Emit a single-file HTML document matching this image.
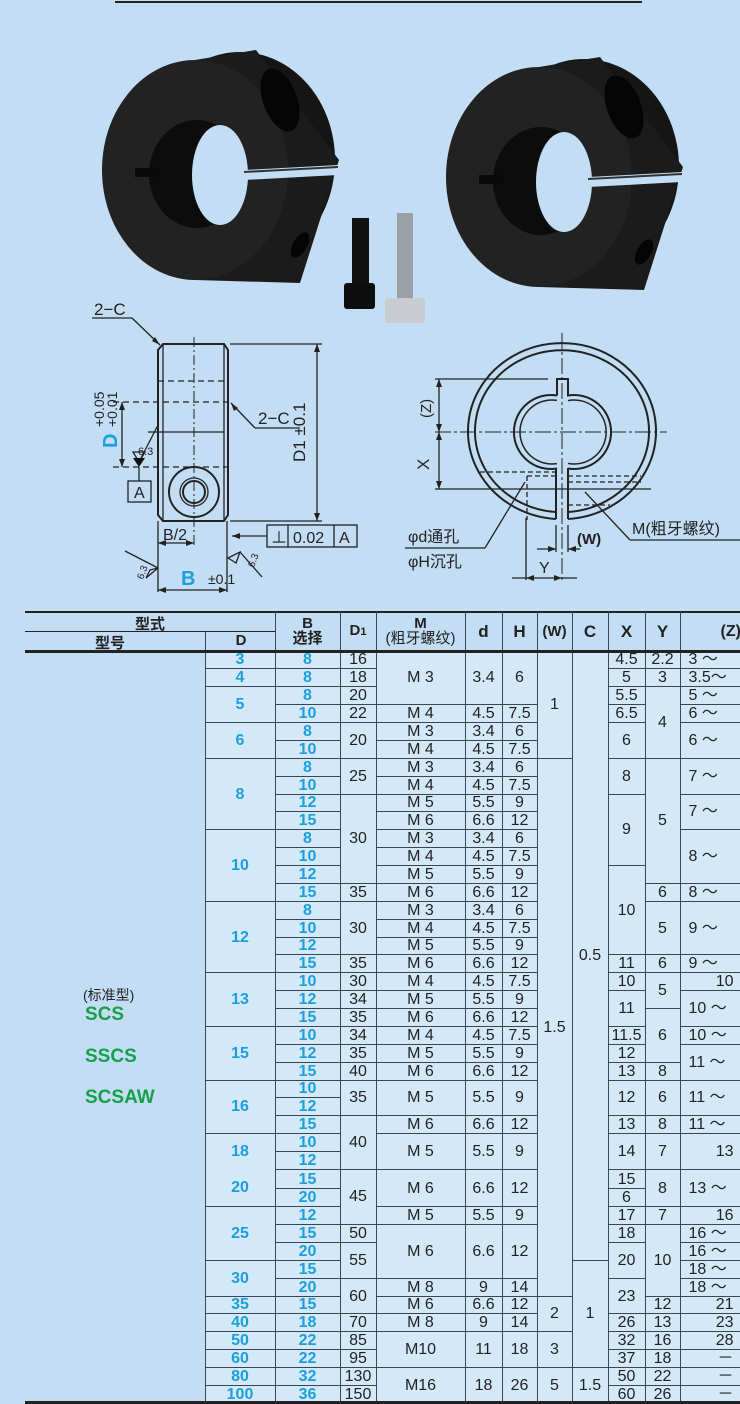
<!DOCTYPE html>
<html><head><meta charset="utf-8"><style>
html,body{margin:0;padding:0}
body{width:740px;height:1404px;overflow:hidden;background:#c3ddf5;position:relative;font-family:"Liberation Sans Narrow","Liberation Sans","Noto Sans CJK SC",sans-serif}
svg{position:absolute;left:0;top:0}
svg text{font-family:"Liberation Sans","Noto Sans CJK SC",sans-serif}
table{position:absolute;left:25px;top:612px;border-collapse:collapse;table-layout:fixed;width:755px}
td{border:1px solid #3a4652;background:#d3e9f8;text-align:center;padding:0;font-size:16px;line-height:15px;color:#222;overflow:hidden;white-space:nowrap}
tr.b td{height:16.88px}
td.bl{color:#1b9fdc;font-weight:bold;font-family:"Liberation Sans",sans-serif;font-size:16px}
td.z{text-align:left;padding-left:8px}
td.zr{text-align:right;padding-right:46px}
td.l{border:none;background:#c3ddf5}
th{font-family:"Liberation Sans","Noto Sans CJK SC",sans-serif;font-size:15px;font-weight:bold;color:#222;border-left:1px solid #3a4652;border-right:1px solid #3a4652;padding:0;line-height:15px;background:transparent}
.hdr{position:absolute;left:25px;top:611px;width:715px;height:0;border-top:2px solid #222}
.hb{position:absolute;left:25px;top:650px;width:715px;border-top:3px solid #222;z-index:2}
.bb{position:absolute;left:25px;top:1401px;width:715px;border-top:3px solid #222;z-index:2}
.lab{position:absolute;left:85px;font-family:"Liberation Sans",sans-serif;font-weight:bold;color:#16a04a;font-size:19px}
</style></head><body>
<svg width="740" height="612" viewBox="0 0 740 612">
<line x1="115" y1="2" x2="642" y2="2" stroke="#222" stroke-width="2"/>
<defs>
<g id="col">
<ellipse cx="240" cy="160" rx="95" ry="108" fill="#151515"/>
<path d="M195 60 L256 50 L339 160 L300 283 L195 280 Z" fill="#1b1b1b"/>
<ellipse cx="195" cy="170" rx="93" ry="110" fill="#222"/>
<ellipse cx="197" cy="174" rx="48" ry="54" fill="#0c0c0c"/>
<ellipse cx="220" cy="175" rx="28" ry="50" fill="#c3ddf5"/>
<rect x="135" y="168" width="25" height="9" fill="#0a0a0a"/>
<polygon points="244,170 338,165 338,175 244,180" fill="#c3ddf5"/>
<polygon points="244,171 338,166 338,168 244,173" fill="#333"/>
<ellipse cx="280" cy="100" rx="17" ry="33" fill="#050505" transform="rotate(-20 280 100)"/>
<ellipse cx="300" cy="245" rx="7" ry="14" fill="#050505" transform="rotate(30 300 245)"/>
</g>
</defs>
<use href="#col"/>
<use href="#col" transform="translate(344,7)"/>
<rect x="352" y="218" width="17" height="70" fill="#111"/>
<rect x="344" y="283" width="31" height="26" rx="3" fill="#0d0d0d"/>
<rect x="397" y="213" width="16" height="88" fill="#9aa0a6"/>
<rect x="385" y="298" width="40" height="25" rx="3" fill="#c9ccd0"/>
<g stroke="#222" fill="none" stroke-width="1.3">
<path d="M163 344 L224 344 L228 350 L228 515 L224 521 L163 521 L158 515 L158 350 Z" stroke-width="2"/>
<line x1="163" y1="344" x2="163" y2="521"/><line x1="224" y1="344" x2="224" y2="521"/>
<line x1="158" y1="381" x2="228" y2="381" stroke-dasharray="6,4"/>
<line x1="113" y1="402" x2="228" y2="402" stroke-dasharray="6,4"/>
<line x1="148" y1="432" x2="224" y2="432"/>
<line x1="113" y1="467" x2="228" y2="467" stroke-dasharray="6,4"/>
<line x1="194" y1="337" x2="194" y2="548" stroke-dasharray="10,3,2,3" stroke-width="1"/>
<circle cx="194" cy="492" r="25" stroke-width="2"/><circle cx="194" cy="492" r="14"/><circle cx="194" cy="492" r="11" stroke-width="2"/>
<line x1="122" y1="402" x2="122" y2="467"/>
<line x1="92" y1="318" x2="132" y2="318"/><line x1="132" y1="318" x2="160" y2="345"/>
<line x1="255" y1="428" x2="298" y2="428"/><line x1="255" y1="428" x2="231" y2="403"/>
<line x1="230" y1="344" x2="322" y2="344"/><line x1="230" y1="521" x2="322" y2="521"/>
<line x1="317" y1="344" x2="317" y2="521"/>
<line x1="158" y1="521" x2="158" y2="592"/><line x1="227" y1="521" x2="227" y2="592"/>
<line x1="158" y1="543" x2="194" y2="543"/>
<line x1="158" y1="590" x2="227" y2="590"/>
<rect x="128" y="481" width="23" height="21"/>
<line x1="139" y1="467" x2="139" y2="481"/>
<path d="M133 452 L145 452 L139 462 Z"/><line x1="139" y1="462" x2="158" y2="425"/>
<rect x="267" y="525" width="90" height="22"/><line x1="288" y1="525" x2="288" y2="547"/><line x1="334" y1="525" x2="334" y2="547"/>
<line x1="232" y1="536" x2="267" y2="536"/>
<path d="M150 570 L158 568 L146 578 Z"/><line x1="125" y1="551" x2="158" y2="568"/>
<path d="M236 563 L228 558 L240 552 Z"/><line x1="240" y1="552" x2="262" y2="577"/>
<path d="M556 519 A94 88 0 1 1 568 519" stroke-width="2"/>
<path d="M556 512 A87 81 0 1 1 568 512" stroke-width="2"/>
<line x1="556" y1="468" x2="556" y2="519" stroke-width="2"/><line x1="568" y1="468" x2="568" y2="519" stroke-width="2"/>
<path d="M557 395.5 L557 379 L568 379 L568 395.5 A37 37 0 1 1 568 468.5 M557 468.5 A37 37 0 1 1 557 395.5" stroke-width="2"/>
<path d="M568 400.6 A32 32 0 1 1 568 463.4 M557 463.6 A32 32 0 1 1 557 400.4" stroke-width="1.5"/>
<line x1="435" y1="432" x2="667" y2="432" stroke-dasharray="16,3,3,3" stroke-width="1"/>
<line x1="562" y1="333" x2="562" y2="582" stroke-dasharray="16,3,3,3" stroke-width="1"/>
<line x1="435" y1="379" x2="548" y2="379"/><line x1="435" y1="489" x2="651" y2="489"/>
<line x1="439" y1="379" x2="439" y2="489"/>
<g stroke-dasharray="5,3"><line x1="480" y1="472" x2="555" y2="472"/><line x1="527" y1="476" x2="555" y2="476"/><line x1="527" y1="476" x2="527" y2="520"/><line x1="568" y1="476" x2="641" y2="476"/><line x1="568" y1="482" x2="641" y2="482"/><line x1="568" y1="505" x2="610" y2="505"/></g>
<line x1="405" y1="548" x2="485" y2="548"/><line x1="485" y1="548" x2="525" y2="482"/>
<line x1="630" y1="540" x2="740" y2="540"/><line x1="630" y1="540" x2="585" y2="492"/>
<line x1="526" y1="518" x2="526" y2="580"/><line x1="556" y1="525" x2="556" y2="552"/><line x1="568" y1="525" x2="568" y2="552"/>
<line x1="537" y1="549" x2="556" y2="549"/><line x1="568" y1="549" x2="580" y2="549"/>
<line x1="512" y1="578" x2="577" y2="578"/>
</g>
<path d="M139 467 L133 458 L145 458 Z" fill="#111"/>
<g fill="#222"><path d="M122 402 l-3 8 h6z"/><path d="M122 467 l-3 -8 h6z"/><path d="M317 344 l-3 8 h6z"/><path d="M317 521 l-3 -8 h6z"/><path d="M158 543 l8 -3 v6z"/><path d="M194 543 l-8 -3 v6z"/><path d="M158 590 l8 -3 v6z"/><path d="M227 590 l-8 -3 v6z"/><path d="M232 536 l8 -3 v6z"/><path d="M160 345 l-8 -4 l3 -4z"/><path d="M231 403 l3 8 l4 -3z"/>
<path d="M439 379 l-3 8 h6z"/><path d="M439 432 l-3 -8 h6z"/><path d="M439 432 l-3 8 h6z"/><path d="M439 489 l-3 -8 h6z"/><path d="M556 549 l-8 -3 v6z"/><path d="M568 549 l8 -3 v6z"/><path d="M526 578 l8 -3 v6z"/><path d="M562 578 l-8 -3 v6z"/></g>
<g font-size="17" fill="#222">
<text x="94" y="315">2−C</text><text x="258" y="424">2−C</text>
<text x="305" y="462" transform="rotate(-90 305 462)">D1 ±0.1</text>
<text x="134" y="498" font-size="16">A</text>
<text x="163" y="540" font-size="16">B/2</text>
<text x="271" y="543" font-size="16">⊥</text><text x="293" y="543" font-size="16">0.02</text><text x="339" y="543" font-size="16">A</text>
<text x="208" y="584" font-size="14">±0.1</text>
<text x="429" y="470" transform="rotate(-90 429 470)">X</text>
<text x="431" y="418" font-size="15" transform="rotate(-90 431 418)">(Z)</text>
<text x="408" y="542" font-size="16">φd通孔</text><text x="408" y="567" font-size="16">φH沉孔</text>
<text x="632" y="534" font-size="16">M(粗牙螺纹)</text>
<text x="577" y="544" font-size="15" font-weight="bold">(W)</text>
<text x="539" y="573" font-size="16">Y</text>
<text x="138" y="455" font-size="11">6.3</text>
<text x="143" y="580" font-size="10" transform="rotate(-70 143 580)">6.3</text>
<text x="254" y="568" font-size="10" transform="rotate(-70 254 568)">6.3</text>
<text x="117" y="448" font-size="20" font-weight="bold" fill="#1ba0dc" transform="rotate(-90 117 448)">D</text>
<text x="117" y="427" font-size="14" transform="rotate(-90 117 427)">+0.01</text>
<text x="104" y="427" font-size="14" transform="rotate(-90 104 427)">+0.05</text>
<text x="181" y="585" font-size="20" font-weight="bold" fill="#1ba0dc">B</text>
</g>
</svg>
<div class="hdr"></div><div class="hb"></div><div class="bb"></div>
<table>
<colgroup><col style="width:180px"><col style="width:70px"><col style="width:65px"><col style="width:36px"><col style="width:89px"><col style="width:37px"><col style="width:35px"><col style="width:35px"><col style="width:36px"><col style="width:37px"><col style="width:35px"><col style="width:100px"></colgroup>
<tr style="height:39px"><th style="border:none"></th><th style="border-left:none"></th><th>B<br>选择</th><th>D<span style="font-size:11px">1</span></th><th>M<br><span style="font-weight:normal">(粗牙螺纹)</span></th><th style="font-size:17px">d</th><th style="font-size:17px">H</th><th>(W)</th><th style="font-size:17px">C</th><th style="font-size:17px">X</th><th style="font-size:17px">Y</th><th style="text-align:left;padding-left:40px;font-size:16px">(Z)</th></tr>
<tr class="b"><td class="l" rowspan="42"></td><td class="bl">3</td><td class="bl">8</td><td>16</td><td rowspan="3">M 3</td><td rowspan="3">3.4</td><td rowspan="3">6</td><td rowspan="6">1</td><td rowspan="34">0.5</td><td>4.5</td><td>2.2</td><td class="z">3 ～</td></tr>
<tr class="b"><td class="bl">4</td><td class="bl">8</td><td>18</td><td>5</td><td>3</td><td class="z">3.5～</td></tr>
<tr class="b"><td class="bl" rowspan="2">5</td><td class="bl">8</td><td>20</td><td>5.5</td><td rowspan="4">4</td><td class="z">5 ～</td></tr>
<tr class="b"><td class="bl">10</td><td>22</td><td>M 4</td><td>4.5</td><td>7.5</td><td>6.5</td><td class="z">6 ～</td></tr>
<tr class="b"><td class="bl" rowspan="2">6</td><td class="bl">8</td><td rowspan="2">20</td><td>M 3</td><td>3.4</td><td>6</td><td rowspan="2">6</td><td class="z" rowspan="2">6 ～</td></tr>
<tr class="b"><td class="bl">10</td><td>M 4</td><td>4.5</td><td>7.5</td></tr>
<tr class="b"><td class="bl" rowspan="4">8</td><td class="bl">8</td><td rowspan="2">25</td><td>M 3</td><td>3.4</td><td>6</td><td rowspan="30">1.5</td><td rowspan="2">8</td><td rowspan="7">5</td><td class="z" rowspan="2">7 ～</td></tr>
<tr class="b"><td class="bl">10</td><td>M 4</td><td>4.5</td><td>7.5</td></tr>
<tr class="b"><td class="bl">12</td><td rowspan="5">30</td><td>M 5</td><td>5.5</td><td>9</td><td rowspan="4">9</td><td class="z" rowspan="2">7 ～</td></tr>
<tr class="b"><td class="bl">15</td><td>M 6</td><td>6.6</td><td>12</td></tr>
<tr class="b"><td class="bl" rowspan="4">10</td><td class="bl">8</td><td>M 3</td><td>3.4</td><td>6</td><td class="z" rowspan="3">8 ～</td></tr>
<tr class="b"><td class="bl">10</td><td>M 4</td><td>4.5</td><td>7.5</td></tr>
<tr class="b"><td class="bl">12</td><td>M 5</td><td>5.5</td><td>9</td><td rowspan="5">10</td></tr>
<tr class="b"><td class="bl">15</td><td>35</td><td>M 6</td><td>6.6</td><td>12</td><td>6</td><td class="z">8 ～</td></tr>
<tr class="b"><td class="bl" rowspan="4">12</td><td class="bl">8</td><td rowspan="3">30</td><td>M 3</td><td>3.4</td><td>6</td><td rowspan="3">5</td><td class="z" rowspan="3">9 ～</td></tr>
<tr class="b"><td class="bl">10</td><td>M 4</td><td>4.5</td><td>7.5</td></tr>
<tr class="b"><td class="bl">12</td><td>M 5</td><td>5.5</td><td>9</td></tr>
<tr class="b"><td class="bl">15</td><td>35</td><td>M 6</td><td>6.6</td><td>12</td><td>11</td><td>6</td><td class="z">9 ～</td></tr>
<tr class="b"><td class="bl" rowspan="3">13</td><td class="bl">10</td><td>30</td><td>M 4</td><td>4.5</td><td>7.5</td><td>10</td><td rowspan="2">5</td><td class="zr">10</td></tr>
<tr class="b"><td class="bl">12</td><td>34</td><td>M 5</td><td>5.5</td><td>9</td><td rowspan="2">11</td><td class="z" rowspan="2">10 ～</td></tr>
<tr class="b"><td class="bl">15</td><td>35</td><td>M 6</td><td>6.6</td><td>12</td><td rowspan="3">6</td></tr>
<tr class="b"><td class="bl" rowspan="3">15</td><td class="bl">10</td><td>34</td><td>M 4</td><td>4.5</td><td>7.5</td><td>11.5</td><td class="z">10 ～</td></tr>
<tr class="b"><td class="bl">12</td><td>35</td><td>M 5</td><td>5.5</td><td>9</td><td>12</td><td class="z" rowspan="2">11 ～</td></tr>
<tr class="b"><td class="bl">15</td><td>40</td><td>M 6</td><td>6.6</td><td>12</td><td>13</td><td>8</td></tr>
<tr class="b"><td class="bl" rowspan="3">16</td><td class="bl">10</td><td rowspan="2">35</td><td rowspan="2">M 5</td><td rowspan="2">5.5</td><td rowspan="2">9</td><td rowspan="2">12</td><td rowspan="2">6</td><td class="z" rowspan="2">11 ～</td></tr>
<tr class="b"><td class="bl">12</td></tr>
<tr class="b"><td class="bl">15</td><td rowspan="3">40</td><td>M 6</td><td>6.6</td><td>12</td><td>13</td><td>8</td><td class="z">11 ～</td></tr>
<tr class="b"><td class="bl" rowspan="4" style="line-height:36px">18<br>20</td><td class="bl">10</td><td rowspan="2">M 5</td><td rowspan="2">5.5</td><td rowspan="2">9</td><td rowspan="2">14</td><td rowspan="2">7</td><td class="zr" rowspan="2">13</td></tr>
<tr class="b"><td class="bl">12</td></tr>
<tr class="b"><td class="bl">15</td><td rowspan="3">45</td><td rowspan="2">M 6</td><td rowspan="2">6.6</td><td rowspan="2">12</td><td>15</td><td rowspan="2">8</td><td class="z" rowspan="2">13 ～</td></tr>
<tr class="b"><td class="bl">20</td><td>6</td></tr>
<tr class="b"><td class="bl" rowspan="3">25</td><td class="bl">12</td><td>M 5</td><td>5.5</td><td>9</td><td>17</td><td>7</td><td class="zr">16</td></tr>
<tr class="b"><td class="bl">15</td><td>50</td><td rowspan="3">M 6</td><td rowspan="3">6.6</td><td rowspan="3">12</td><td>18</td><td rowspan="4">10</td><td class="z">16 ～</td></tr>
<tr class="b"><td class="bl">20</td><td rowspan="2">55</td><td rowspan="2">20</td><td class="z">16 ～</td></tr>
<tr class="b"><td class="bl" rowspan="2">30</td><td class="bl">15</td><td rowspan="6">1</td><td class="z">18 ～</td></tr>
<tr class="b"><td class="bl">20</td><td rowspan="2">60</td><td>M 8</td><td>9</td><td>14</td><td rowspan="2">23</td><td class="z">18 ～</td></tr>
<tr class="b"><td class="bl">35</td><td class="bl">15</td><td>M 6</td><td>6.6</td><td>12</td><td rowspan="2">2</td><td>12</td><td class="zr">21</td></tr>
<tr class="b"><td class="bl">40</td><td class="bl">18</td><td>70</td><td>M 8</td><td>9</td><td>14</td><td>26</td><td>13</td><td class="zr">23</td></tr>
<tr class="b"><td class="bl">50</td><td class="bl">22</td><td>85</td><td rowspan="2">M10</td><td rowspan="2">11</td><td rowspan="2">18</td><td rowspan="2">3</td><td>32</td><td>16</td><td class="zr">28</td></tr>
<tr class="b"><td class="bl">60</td><td class="bl">22</td><td>95</td><td>37</td><td>18</td><td class="zr">－</td></tr>
<tr class="b"><td class="bl">80</td><td class="bl">32</td><td>130</td><td rowspan="2">M16</td><td rowspan="2">18</td><td rowspan="2">26</td><td rowspan="2">5</td><td rowspan="2">1.5</td><td>50</td><td>22</td><td class="zr">－</td></tr>
<tr class="b"><td class="bl">100</td><td class="bl">36</td><td>150</td><td>60</td><td>26</td><td class="zr">－</td></tr>
</table>
<div style="position:absolute;left:25px;top:631px;width:250px;border-top:1px solid #222"></div>
<div style="position:absolute;left:25px;top:613px;width:250px;text-align:center;font:bold 15px 'Liberation Sans','Noto Sans CJK SC',sans-serif;color:#222">型式</div>
<div style="position:absolute;left:95px;top:632px;font:bold 15px 'Liberation Sans','Noto Sans CJK SC',sans-serif;color:#222">型号</div>
<div style="position:absolute;left:205px;top:632px;width:70px;height:19px;border-left:1px solid #3a4652;text-align:center;font:bold 15px 'Liberation Sans',sans-serif;color:#222;line-height:18px">D</div>
<div style="position:absolute;left:83px;top:985px;font:14px 'Liberation Sans','Noto Sans CJK SC',sans-serif;color:#222">(标准型)</div>
<div class="lab" style="top:1004px">SCS</div>
<div class="lab" style="top:1046px">SSCS</div>
<div class="lab" style="top:1087px">SCSAW</div>
</body></html>
